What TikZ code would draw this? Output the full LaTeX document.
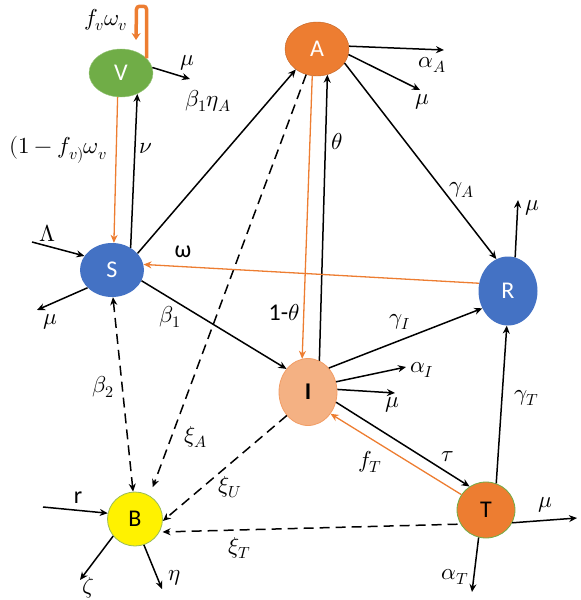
\documentclass[tikz,border=0pt]{standalone}
\usepackage{fontspec}
\usepackage{unicode-math}
\setmathfont{Latin Modern Math}
\newfontfamily\nodefont{Carlito}
\usetikzlibrary{arrows.meta,shapes.geometric}
\definecolor{vgreen}{HTML}{70AD47}
\definecolor{aorange}{HTML}{ED7D31}
\definecolor{sblue}{HTML}{4472C4}
\definecolor{isalmon}{HTML}{F4B183}
\definecolor{bborder}{HTML}{9BBB59}
\begin{document}
\begin{tikzpicture}[x=1pt,y=-1pt,
  comp/.style={ellipse, inner sep=0pt, font=\nodefont\fontsize{24}{24}\selectfont},
  lab/.style={inner sep=0pt, font=\fontsize{23}{24}\selectfont},
  tlab/.style={inner sep=0pt, font=\nodefont\fontsize{24}{24}\selectfont},
  arr/.style={-{Stealth[length=8pt,width=7pt]}, line width=1.5pt, black},
  oarr/.style={-{Stealth[length=8pt,width=7pt]}, line width=1.3pt, aorange},
  darr/.style={arr, dash pattern=on 10pt off 6pt}]
\useasboundingbox (0,0) rectangle (581,600);
% compartments
\node[comp, fill=vgreen, draw=vgreen!70!white, minimum width=64pt, minimum height=48pt, text=white] (V) at (121,73) {V};
\node[comp, fill=aorange, draw=aorange!80!black, minimum width=64pt, minimum height=54pt, text=white] (A) at (317,49) {A};
\node[comp, fill=sblue, minimum width=64pt, minimum height=54pt, text=white] (S) at (112,270) {S};
\node[comp, fill=sblue, minimum width=59pt, minimum height=69pt, text=white] (R) at (508,291) {R};
\node[comp, fill=isalmon, draw=aorange!75, line width=0.8pt, minimum width=58pt, minimum height=67pt, text=black, font=\nodefont\bfseries\fontsize{24}{24}\selectfont] (I) at (308,392) {I};
\node[comp, fill=yellow, draw=bborder, line width=0.8pt, minimum width=55pt, minimum height=54pt, text=black] (B) at (135,519) {B};
\node[comp, fill=aorange, draw=vgreen, line width=0.8pt, minimum width=58pt, minimum height=56pt, text=black] (T) at (486,510) {T};
% free ends
\coordinate (vl) at (136,40);
\coordinate (vmu) at (190,79);
\coordinate (lam) at (32,242);
\coordinate (smu) at (37,310);
\coordinate (aal) at (444,50);
\coordinate (amu) at (420,90);
\coordinate (rmu) at (518,200);
\coordinate (br) at (43,507);
\coordinate (bz) at (80,580);
\coordinate (bn) at (162,589);
\coordinate (ial) at (406,367);
\coordinate (imu) at (395,393);
\coordinate (tmu) at (577,518);
\coordinate (tal) at (472,592);
% V connectors
\draw[aorange, line width=3.5pt, rounded corners=3pt, -{Stealth[length=7pt,width=9pt]}] (V.30) -- ++(0,-52) -- ++(-10,0) -- (vl);
\draw[arr] (V.10) -- (vmu);
\draw[arr] (S.50) -- (V.-52);
\draw[oarr] (V.-98) -- (S.86);
% S connectors
\draw[arr] (lam) -- (S.153);
\draw[arr] (S.216) -- (smu);
\draw[arr] (S.33) -- (A.224);
\draw[arr] (S.-20) -- (I.133);
\draw[darr, {Stealth[length=8pt,width=7pt]}-{Stealth[length=8pt,width=7pt]}] (S.-88) -- (B.94);
% A connectors
\draw[darr, shorten >=9pt] (A.247) -- (B.58);
\draw[arr] (A.5) -- (aal);
\draw[arr] (A.-10) -- (amu);
\draw[arr] (A.-27) -- (R.110);
\draw[oarr] (A.-100) -- (I.100);
\draw[arr] (I.70) -- (A.-68);
% R
\draw[arr] (R.78) -- (rmu);
\draw[oarr] (R.165) -- (S.10);
% I
\draw[arr] (I.49) -- (R.214);
\draw[arr] (I.20) -- (ial);
\draw[arr] (I.5) -- (imu);
\draw[arr] (I.-20) -- (T.125);
\draw[oarr] (T.148) -- (I.-44);
\draw[darr] (I.228) -- (B.-4);
% T
\draw[arr] (T.69) -- (R.-92);
\draw[arr] (T.-26) -- (tmu);
\draw[arr] (T.-105) -- (tal);
\draw[darr, shorten <=3pt, shorten >=3pt] (T.209) -- (B.-28);
% B
\draw[arr] (br) -- (B.168);
\draw[arr] (B.218) -- (bz);
\draw[arr] (B.-71) -- (bn);
% labels
\node[lab] (l1) at (106,20) {$f_v\omega_v$};
\node[lab] (l2) at (187,63) {$\mu$};
\node[lab] (l3) at (146,148) {$\nu$};
\node[lab] (l4) at (58,150) {$(1-f_{v)}\omega_v$};
\node[lab] (l5) at (47,233) {$\Lambda$};
\node[lab] (l6) at (50,322) {$\mu$};
\node[lab] (l7) at (170,317) {$\beta_1$};
\node[tlab] (l8) at (183,252) {ω};
\node[lab] (l9) at (208,101) {$\beta_1\eta_A$};
\node[lab] (l10) at (337,142) {$\theta$};
\node[lab] (l11) at (432,65) {$\alpha_A$};
\node[lab] (l12) at (422,102) {$\mu$};
\node[lab] (l13) at (462,190) {$\gamma_A$};
\node[lab] (l14) at (532,208) {$\mu$};
\node[lab] (l15) at (284,313) {{\nodefont\fontsize{24}{24}\selectfont 1-}$\theta$};
\node[lab] (l16) at (400,322) {$\gamma_I$};
\node[lab] (l17) at (422,370) {$\alpha_I$};
\node[lab] (l18) at (392,405) {$\mu$};
\node[lab] (l19) at (448,457) {$\tau$};
\node[lab] (l20) at (370,462) {$f_T$};
\node[lab] (l21) at (527,398) {$\gamma_T$};
\node[lab] (l22) at (545,505) {$\mu$};
\node[lab] (l23) at (455,577) {$\alpha_T$};
\node[lab] (l24) at (103,387) {$\beta_2$};
\node[lab] (l25) at (196,437) {$\xi_A$};
\node[lab] (l26) at (230,487) {$\xi_U$};
\node[lab] (l27) at (240,548) {$\xi_T$};
\node[tlab] (l28) at (78,498) {r};
\node[lab] (l29) at (88,588) {$\zeta$};
\node[lab] (l30) at (175,578) {$\eta$};
\end{tikzpicture}
\end{document}
